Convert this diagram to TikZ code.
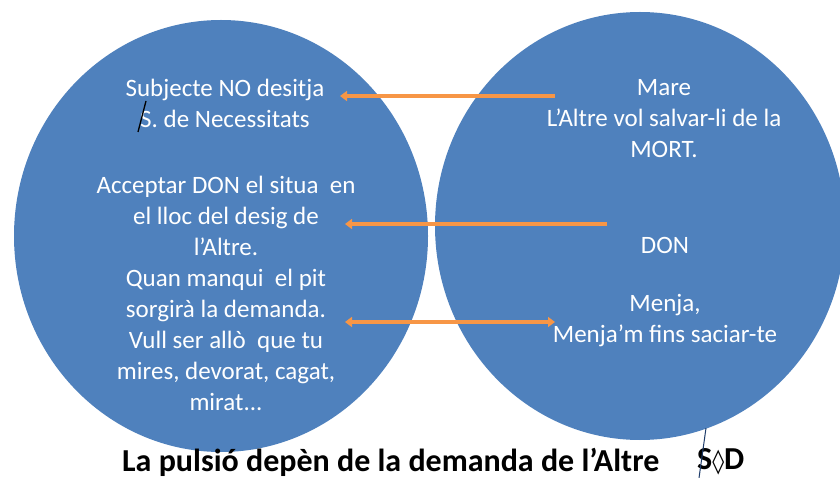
\documentclass[tikz,border=0pt]{standalone}
\usepackage{fontspec}
\setmainfont{Carlito}
\newfontfamily\dejavu{DejaVu Sans}
\usetikzlibrary{arrows.meta}
\definecolor{circblue}{HTML}{4F81BD}
\definecolor{arroworange}{HTML}{F79646}
\definecolor{slashblue}{HTML}{1F3D6B}
\begin{document}
\begin{tikzpicture}[x=1pt,y=-1pt,
  txt/.style={text=white,font=\fontsize{25}{31}\selectfont,align=center,inner sep=0pt},
  caption/.style={text=black,font=\fontsize{32}{36}\selectfont\bfseries,inner sep=0pt},
  link/.style={draw=arroworange,line width=3.5pt},
  tipl/.style={-{Triangle[length=7pt,width=10pt]}},
  tipb/.style={{Triangle[length=7pt,width=10pt]}-{Triangle[length=7pt,width=10pt]}}]
\useasboundingbox (0,0) rectangle (840,478);
\fill[white] (0,0) rectangle (840,478);
\fill[circblue] (221,236) ellipse [x radius=207pt, y radius=216pt];
\fill[circblue] (640,226) ellipse [x radius=205pt, y radius=214pt];
% left texts
\node[txt] (l1) at (225,103) {Subjecte NO desitja\\S. de Necessitats};
\node[txt] (l2) at (226,293) {Acceptar DON el situa\ \ en\\el lloc del desig de\\l’Altre.\\Quan manqui\ \ el pit\\sorgirà la demanda.\\Vull ser allò\ \ que tu\\mires, devorat, cagat,\\mirat...};
% right texts
\node[txt] (r1) at (664,119) {Mare\\L’Altre vol salvar-li de la\\MORT.};
\node[txt] (r2) at (665,245) {DON};
\node[txt] (r3) at (665,321) {Menja,\\Menja’m fins saciar-te};
% slash over S
\draw[black,line width=1.3pt] (138,132) -- (146,101);
% arrows
\coordinate (a1s) at (555,96); \coordinate (a1e) at (340,96);
\coordinate (a2s) at (607,224); \coordinate (a2e) at (345,224);
\coordinate (a3s) at (345,322); \coordinate (a3e) at (555,322);
\draw[link,tipl] (a1s) -- (a1e);
\draw[link,tipl] (a2s) -- (a2e);
\draw[link,tipb] (a3s) -- (a3e);
% caption
\node[caption,anchor=west] (cap) at (122,462) {La pulsió depèn de la demanda de l’Altre};
\node[caption,anchor=west] (sd) at (697,462) {S{\dejavu\bfseries\fontsize{24}{28}\selectfont ◊}D};
\draw[slashblue,line width=1pt] (699,478) -- (706,428);
\end{tikzpicture}
\end{document}
